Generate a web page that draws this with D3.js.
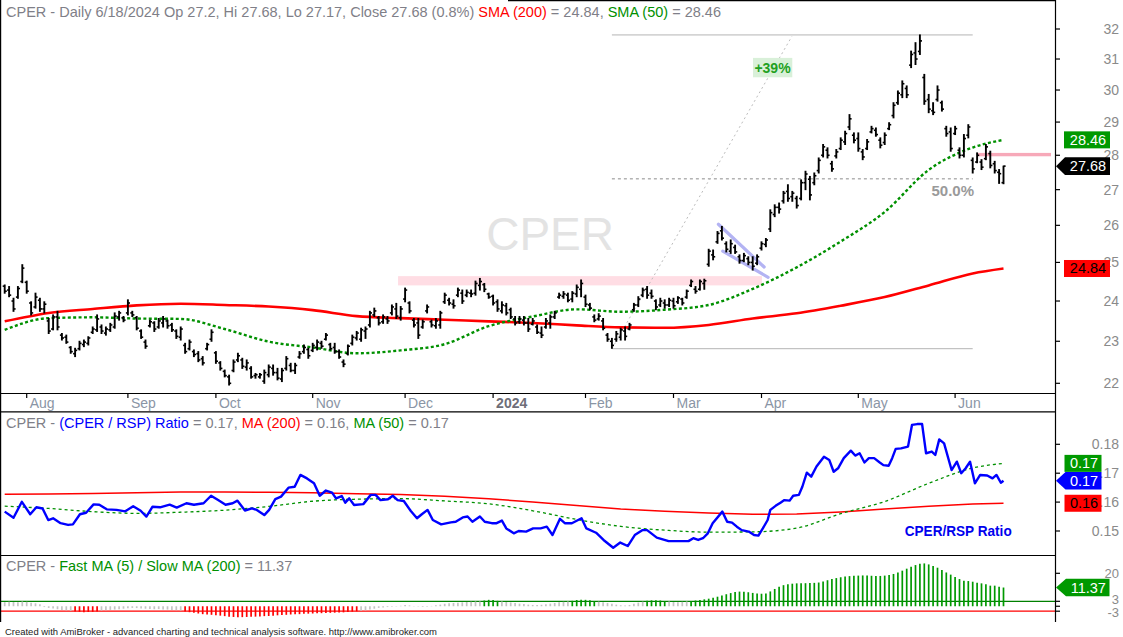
<!DOCTYPE html>
<html><head><meta charset="utf-8">
<script src="https://cdn.jsdelivr.net/npm/d3@7"></script>
<style>
body{margin:0;background:#fff}
svg{display:block}
text{font-family:"Liberation Sans",Arial,sans-serif}
</style></head>
<body><svg id="c" width="1123" height="637"></svg>
<script>
// ---------------- DATA ----------------
const firstDay = "2023-07-25", lastDay = "2024-06-18";
const holidays = ["2023-09-04","2023-11-23","2023-12-25","2024-01-01","2024-01-15","2024-02-19","2024-03-29","2024-05-27"];

const highs = [24.41,24.37,24.07,24.37,24.94,24.51,23.98,24.20,24.07,23.98,
23.56,23.65,23.74,23.19,23.15,22.87,22.83,23.00,23.03,23.11,
23.35,23.65,23.40,23.35,23.44,23.70,23.74,23.61,24.03,23.74,
23.61,23.28,23.03,23.52,23.48,23.56,23.61,23.52,23.44,23.28,
23.35,22.95,23.03,22.79,22.75,22.63,22.95,23.28,22.75,22.51,
22.31,22.19,22.55,22.71,22.59,22.55,22.39,22.23,22.23,22.31,
22.43,22.43,22.35,22.35,22.63,22.47,22.47,22.75,22.91,22.83,
22.95,23.03,23.00,23.19,22.95,22.95,22.79,22.55,22.91,23.15,
23.24,23.32,23.35,23.74,23.82,23.61,23.65,23.61,23.90,23.94,
23.86,24.33,23.98,23.56,23.56,23.52,23.90,23.52,23.56,23.74,
24.20,24.07,24.03,24.33,24.28,24.28,24.28,24.51,24.58,24.45,
24.20,24.15,24.03,23.98,23.94,23.82,23.61,23.61,23.61,23.56,
23.56,23.40,23.35,23.56,23.65,23.74,24.20,24.24,24.20,24.24,
24.41,24.54,24.15,23.94,23.65,23.68,23.56,23.19,23.07,23.24,
23.32,23.35,23.44,23.94,24.11,24.33,24.37,24.28,24.03,24.07,
24.03,24.07,24.07,24.11,24.07,24.28,24.54,24.37,24.54,24.56,
25.35,25.33,25.83,25.97,25.55,25.60,25.46,25.20,25.24,25.15,
25.15,25.20,25.55,25.64,26.43,26.57,26.62,26.95,27.14,26.95,
26.81,27.28,27.53,27.38,27.48,27.92,28.32,28.22,27.82,28.17,
28.52,28.72,29.23,28.67,28.67,28.17,28.47,28.87,28.82,28.52,
28.67,28.98,29.60,29.97,30.29,30.13,31.26,31.54,31.80,30.50,
29.86,29.60,30.13,29.65,28.87,28.82,28.87,28.22,28.62,28.92,
27.92,28.07,27.87,28.32,28.12,27.82,27.58,27.68];

const lows = [24.20,24.11,23.74,24.07,24.47,24.20,23.65,23.82,23.74,23.70,
23.19,23.28,23.28,23.03,22.95,22.71,22.63,22.79,22.87,22.91,
23.19,23.24,23.19,23.15,23.24,23.32,23.52,23.48,23.65,23.61,
23.28,23.07,22.83,23.35,23.24,23.32,23.35,23.32,23.24,23.07,
23.03,22.71,22.79,22.63,22.51,22.43,22.79,23.00,22.47,22.31,
22.15,21.96,22.27,22.51,22.35,22.31,22.12,22.12,22.12,22.00,
22.15,22.19,22.08,22.04,22.31,22.27,22.23,22.59,22.71,22.59,
22.75,22.79,22.83,23.03,22.79,22.71,22.59,22.39,22.67,22.91,
23.03,23.00,23.07,23.35,23.61,23.40,23.44,23.44,23.65,23.56,
23.52,23.98,23.70,23.35,23.07,23.32,23.70,23.35,23.32,23.32,
23.94,23.90,23.82,24.11,23.94,24.11,24.11,24.15,24.28,24.24,
24.07,23.90,23.74,23.70,23.65,23.56,23.40,23.44,23.40,23.24,
23.40,23.19,23.09,23.32,23.32,23.56,24.07,24.07,23.98,23.98,
24.11,24.11,23.86,23.78,23.48,23.52,23.28,23.00,22.83,23.00,
23.03,23.03,23.28,23.74,23.86,24.11,24.07,24.07,23.78,23.86,
23.82,23.86,23.82,23.94,23.90,24.07,24.37,24.20,24.28,24.30,
24.90,25.07,25.51,25.60,25.28,25.24,25.24,24.98,25.02,24.94,
24.80,24.94,25.33,25.42,25.83,26.24,26.34,26.62,26.67,26.67,
26.48,26.71,27.00,26.71,27.14,27.48,27.95,27.92,27.53,27.92,
28.17,28.32,28.77,28.37,28.12,27.87,28.17,28.67,28.57,28.22,
28.32,28.77,29.13,29.55,29.76,29.76,30.72,30.82,31.15,29.55,
29.29,29.23,29.65,29.34,28.57,28.12,28.62,27.92,27.95,28.52,
27.48,27.78,27.58,27.87,27.63,27.48,27.18,27.17];

const opens = [24.38,24.28,24.00,24.10,24.50,24.48,23.95,23.85,24.02,23.80,
23.50,23.30,23.60,23.15,23.10,22.85,22.70,22.82,22.92,22.95,
23.22,23.28,23.35,23.20,23.28,23.35,23.60,23.58,23.70,23.70,
23.58,23.25,22.98,23.38,23.45,23.35,23.45,23.50,23.40,23.25,
23.10,22.90,22.82,22.75,22.70,22.58,22.82,23.05,22.72,22.48,
22.28,22.15,22.30,22.55,22.55,22.38,22.35,22.18,22.15,22.05,
22.20,22.35,22.25,22.10,22.35,22.42,22.30,22.62,22.75,22.80,
22.78,22.85,22.95,23.05,22.92,22.85,22.75,22.50,22.70,22.95,
23.08,23.05,23.25,23.40,23.65,23.58,23.48,23.55,23.70,23.80,
23.58,24.05,23.95,23.52,23.45,23.35,23.75,23.48,23.38,23.40,
23.98,24.02,23.92,24.15,24.20,24.15,24.20,24.20,24.40,24.42,
24.18,24.12,23.98,23.75,23.88,23.78,23.55,23.48,23.52,23.45,
23.42,23.35,23.20,23.35,23.45,23.60,24.10,24.12,24.15,24.05,
24.18,24.30,24.10,23.90,23.60,23.55,23.50,23.15,23.00,23.05,
23.10,23.25,23.30,23.78,23.90,24.15,24.30,24.20,24.00,23.90,
23.95,23.90,24.00,23.98,24.05,24.10,24.40,24.30,24.30,24.45,
24.95,25.20,25.55,25.85,25.50,25.30,25.40,25.15,25.05,25.10,
25.00,24.98,25.38,25.48,25.90,26.30,26.50,26.68,26.95,26.80,
26.75,26.75,27.20,27.30,27.20,27.55,28.00,28.15,27.75,27.98,
28.20,28.40,28.85,28.60,28.50,28.10,28.20,28.70,28.75,28.45,
28.38,28.80,29.20,29.60,29.85,30.05,30.80,31.20,31.25,30.40,
29.70,29.35,29.70,29.60,28.80,28.70,28.65,28.15,28.00,28.60,
27.85,27.80,27.80,27.90,28.05,27.75,27.50,27.20];

const closes = [24.25,24.15,23.80,24.32,24.85,24.25,23.70,24.10,23.80,23.92,
23.25,23.60,23.35,23.08,22.98,22.75,22.78,22.95,22.98,23.08,
23.30,23.55,23.25,23.30,23.40,23.62,23.70,23.52,23.95,23.65,
23.32,23.10,22.88,23.48,23.30,23.50,23.55,23.38,23.28,23.12,
23.30,22.75,22.98,22.68,22.55,22.48,22.92,23.22,22.52,22.35,
22.18,22.00,22.50,22.65,22.40,22.48,22.15,22.20,22.20,22.25,
22.38,22.25,22.12,22.30,22.58,22.30,22.42,22.70,22.85,22.65,
22.90,22.98,22.88,23.15,22.82,22.75,22.62,22.45,22.88,23.10,
23.20,23.28,23.30,23.70,23.75,23.45,23.60,23.50,23.85,23.62,
23.80,24.28,23.75,23.40,23.15,23.48,23.85,23.40,23.50,23.70,
24.15,23.95,23.88,24.28,24.00,24.22,24.18,24.45,24.50,24.30,
24.10,23.95,23.80,23.90,23.70,23.60,23.45,23.55,23.45,23.30,
23.50,23.22,23.15,23.50,23.60,23.70,24.15,24.18,24.02,24.20,
24.35,24.45,23.92,23.82,23.52,23.62,23.32,23.05,22.90,23.18,
23.28,23.12,23.40,23.90,24.05,24.28,24.15,24.12,23.85,24.00,
23.90,24.02,23.88,24.08,23.95,24.25,24.50,24.25,24.50,24.52,
25.30,25.15,25.78,25.65,25.35,25.50,25.28,25.05,25.18,25.00,
24.90,25.15,25.50,25.60,26.35,26.50,26.45,26.90,26.75,26.90,
26.55,27.20,27.45,26.85,27.40,27.85,28.25,28.00,27.60,28.10,
28.45,28.65,29.10,28.45,28.20,27.95,28.40,28.80,28.62,28.30,
28.60,28.92,29.52,29.90,30.20,29.85,31.15,31.00,31.60,29.65,
29.40,29.30,30.00,29.40,28.65,28.20,28.80,28.00,28.50,28.85,
27.60,28.00,27.65,28.25,27.70,27.55,27.46,27.68];

// moving averages read every 10 bars (bar index -> value)
const maIdx    = [0,10,20,30,40,50,60,70,80,90,100,110,120,130,140,150,160,170,180,190,200,210,220,227];
const sma200   = [23.49,23.70,23.80,23.89,23.93,23.90,23.86,23.77,23.62,23.57,23.53,23.49,23.45,23.39,23.34,23.33,23.40,23.56,23.69,23.88,24.10,24.40,24.71,24.84];
const sma50    = [23.28,23.57,23.59,23.56,23.55,23.30,22.99,22.85,22.71,22.78,22.93,23.37,23.61,23.79,23.73,23.78,23.90,24.31,24.87,25.56,26.37,27.57,28.23,28.46];
const ratioMA200 = [.1627,.1628,.1630,.1632,.1635,.1635,.1634,.1632,.1629,.1626,.1620,.1612,.1600,.1588,.1576,.1568,.1562,.1558,.1559,.1566,.1576,.1586,.1593,.1596];
const ratioMA50  = [.1586,.1578,.1567,.1561,.1565,.1572,.1585,.1603,.1610,.1612,.1604,.1594,.1570,.1540,.1516,.1503,.1496,.1497,.1510,.1560,.1602,.1665,.1718,.1734];

// CPER / RSP ratio (bar index, value)
const ratioIdx = [0,2,3.9,5.8,7.2,8.6,9.9,11,12.7,14.4,15.5,17.1,18.5,20.2,21.5,23.2,25.4,27.4,29.2,30.9,32.2,33.6,35.3,37.5,39.1,41.3,43,45.2,46.9,48.5,50.2,51.8,52.9,54.6,56.2,57.3,59,60.1,61.5,62.8,64.5,65.9,67.2,68.7,70.3,71.6,73,74.4,75.3,76.6,77.4,78.3,79.4,81.5,83.2,84.3,85.4,87.1,88.2,89.3,90.7,92.3,93.7,94.8,96.1,97.3,99.2,101.4,102.5,104.1,105.2,106.3,108,109.1,110.7,111.8,113,114,115.7,116.8,118.5,120.1,121.8,123.2,124.5,126.2,127.3,128.9,131.1,132.2,134.4,136.1,138.3,139.9,141.6,143.2,144.9,146,148.2,150.9,155.4,156.5,157.6,158.7,159.8,160.9,163.1,164.2,165.3,166.4,167.5,169.1,170.3,171.3,172.3,173.4,174,175.2,176.4,177.2,178.4,179.2,180.5,181.3,182.3,183.3,184.5,186.2,187.4,188.4,189.4,190.7,192.3,193.3,194.3,195.4,196.4,197.6,198.8,199.7,200.9,201.7,202.5,203.7,205.3,206.2,207.4,208.5,209.4,210.7,211.5,212.4,213.5,215.2,216.4,217.4,218.4,219.4,220.5,221.7,223.3,224.5,225.4,226.4,227];
const ratioVal = [.1567,.1546,.1601,.1558,.1582,.1578,.1538,.1544,.1527,.1521,.1523,.1558,.1563,.1592,.1591,.1575,.1573,.1568,.1586,.1570,.1550,.1584,.1582,.1591,.1581,.1596,.1591,.1596,.1622,.1607,.1591,.1596,.1605,.1571,.1578,.1573,.1555,.1573,.1610,.1619,.1650,.1653,.1694,.1682,.1665,.1622,.1640,.1633,.1613,.1621,.1598,.1613,.1590,.1593,.1625,.1625,.1607,.1610,.1622,.1607,.1604,.1569,.1544,.1558,.1573,.1538,.1523,.1530,.1532,.1547,.1550,.1532,.1550,.1532,.1527,.1527,.1536,.1509,.1492,.1500,.1498,.1509,.1509,.1515,.1486,.1542,.1527,.1527,.1544,.1509,.1494,.1469,.1442,.1460,.1448,.1486,.1503,.1503,.1477,.1465,.1465,.1475,.1469,.1475,.1492,.1527,.1567,.1532,.1529,.1515,.1503,.1498,.1486,.1484,.1509,.1538,.1573,.1587,.1599,.1607,.1605,.1622,.1625,.1654,.1702,.1688,.1723,.1757,.1746,.1705,.1717,.1752,.1778,.1761,.1769,.1737,.1752,.1752,.1738,.1728,.1726,.1752,.1784,.1786,.1792,.1867,.1870,.1870,.1769,.1775,.1763,.1817,.1803,.1711,.1740,.1700,.1717,.1740,.1665,.1694,.1692,.1682,.1694,.1667,.1674];

// Fast MA(5) / Slow MA(200) oscillator, one value per bar
const osc = [2.5,2.8,2.6,2.4,2.9,2.7,2.2,1.8,1.2,
-0.5,-1.0,-1.3,-1.8,-2.2,-2.5,-2.8,
-3.2,-3.4,-3.6,-3.5,-3.4,-3.2,
-2.6,-2.4,-2.2,-2.0,-1.8,-1.5,-1.2,-1.0,-1.1,-1.3,-1.5,-1.6,-1.8,-1.7,-1.9,-2.0,-2.2,-2.4,-2.6,
-3.2,-3.6,-4.0,-4.4,-4.8,-5.0,-5.2,-5.4,-5.7,-6.0,-6.3,-6.5,-6.6,-6.6,-6.5,-6.4,-6.3,-6.2,-6.0,-5.9,-5.7,-5.5,-5.3,-5.2,-5.0,-4.9,-4.8,-4.6,-4.5,-4.4,-4.3,-4.2,-4.1,-4.0,-3.9,-3.8,-3.7,-3.5,-3.3,-3.1,
-2.8,-2.5,-2.0,-1.5,-1.0,-0.8,-0.5,-0.3,-0.2,0.3,0.8,0.5,0.2,-0.2,-0.4,-0.3,0.2,0.6,1.0,1.5,1.8,2.0,2.2,2.4,2.6,2.8,2.9,
2.9,3.5,3.9,3.8,3.3,
2.9,2.6,2.3,2.0,1.6,1.3,1.0,0.8,0.7,0.9,1.2,1.6,2.0,2.4,2.7,2.9,
3.3,3.8,4.0,3.9,3.6,3.2,
2.8,2.4,2.0,1.5,1.0,0.6,0.4,0.8,1.5,2.2,2.8,
3.3,3.6,3.7,3.5,3.2,
2.9,2.6,2.5,2.7,2.9,
3.2,3.5,3.8,4.2,4.6,5.2,5.8,6.5,7.3,8.0,8.6,8.9,8.8,8.5,8.1,7.8,
7.6,7.8,9.0,10.5,11.8,12.8,13.4,13.7,13.9,14.0,14.0,14.1,14.2,14.4,15.0,15.8,16.5,17.1,17.6,18.0,18.3,18.5,18.6,18.7,18.6,18.5,18.4,18.4,18.6,19.0,19.6,
20.5,21.6,22.8,24.0,25.0,25.8,26.0,25.4,24.5,23.4,22.0,20.5,19.2,17.8,
16.5,15.5,15.3,14.9,14.3,13.9,13.3,12.5,12.5,11.9,11.37];

const priceTicks = [22,23,24,25,26,27,28,29,30,31,32];
const ratioTicks = [0.15,0.16,0.17,0.18];
const oscTicks = [20,3,0,-3];
const oscLabels = [20,3,-3];
const oscLevels = [3,-3];

// annotations (bar index / price)
const swingIdx = [138,220];            // start / end of retracement lines
const swingLevels = [31.8,27.31,22.82]; // high, 50%, low
const trendLine = [[138,22.82],[178.9,31.75]];
const resistBand = [89.4,172.1,24.40,24.64];
const rightBand = [221.2,237.8,27.97,28.07];
const pennant = [[[162.2,26.03],[172.6,24.88]],[[163.2,25.30],[173.5,24.61]]];
const gainLabel = [174.5,30.72,"+39%"];
const retraceLabel = [220.3,26.82,"50.0%"];

// ---------------- CHART ----------------
const svg = d3.select("#c");
const AX = 1055;
const fmt = d3.timeFormat("%Y-%m-%d");
const dates = [];
for (let d = new Date(firstDay+"T12:00:00"); d <= new Date(lastDay+"T12:00:00"); d.setDate(d.getDate()+1)) {
  const wd = d.getDay();
  if (wd===0 || wd===6 || holidays.includes(fmt(d))) continue;
  dates.push(new Date(d));
}
const N = dates.length;
const x = d3.scaleLinear().domain([0, N-1]).range([4.7, 1003.5]);
const yP = d3.scaleLog().domain([22,32]).range([383.3,29]);
const yR = d3.scaleLinear().domain([0.15,0.18]).range([531,444.3]);
const yH = d3.scaleLinear().domain([-3,20]).range([611.2,573.3]);

const defs = svg.append("defs");
function clip(id,y0,h){defs.append("clipPath").attr("id",id).append("rect").attr("x",0).attr("y",y0).attr("width",AX).attr("height",h);}
clip("cp",1,392); clip("cr",412,143); clip("ch",556,66);

const gP = svg.append("g").attr("clip-path","url(#cp)");
const gR = svg.append("g").attr("clip-path","url(#cr)");
const gH = svg.append("g").attr("clip-path","url(#ch)");

// watermark
gP.append("text").attr("x",614).attr("y",250).attr("text-anchor","end")
  .attr("font-size",46).attr("fill","#e3e3e3").text("CPER");

// bands
gP.append("rect").attr("x",x(resistBand[0])).attr("width",x(resistBand[1])-x(resistBand[0]))
  .attr("y",yP(resistBand[3])).attr("height",yP(resistBand[2])-yP(resistBand[3])).attr("fill","#ffdde4");
gP.append("rect").attr("x",x(rightBand[0])).attr("width",x(rightBand[1])-x(rightBand[0]))
  .attr("y",yP(rightBand[3])).attr("height",yP(rightBand[2])-yP(rightBand[3])).attr("fill","#f7a9b9");

// retracement lines
swingLevels.forEach((v,k)=>{
  gP.append("line").attr("x1",x(swingIdx[0])).attr("x2",x(swingIdx[1]))
    .attr("y1",yP(v)).attr("y2",yP(v)).attr("stroke",k===1?"#8c8c8c":"#b4b4b4")
    .attr("stroke-width",1).attr("stroke-dasharray",k===1?"3,3":null);
});
gP.append("line").attr("x1",x(trendLine[0][0])).attr("y1",yP(trendLine[0][1]))
  .attr("x2",x(trendLine[1][0])).attr("y2",yP(trendLine[1][1]))
  .attr("stroke","#bdbdbd").attr("stroke-width",1).attr("stroke-dasharray","2,3");

// moving averages
const lineP = d3.line().x(d=>x(d[0])).y(d=>yP(d[1])).curve(d3.curveMonotoneX);
gP.append("path").attr("d",lineP(maIdx.map((i,k)=>[i,sma200[k]])))
  .attr("fill","none").attr("stroke","#ff0000").attr("stroke-width",2.6);
gP.append("path").attr("d",lineP(maIdx.map((i,k)=>[i,sma50[k]])))
  .attr("fill","none").attr("stroke","#009000").attr("stroke-width",2.4).attr("stroke-dasharray","3,2.4");

// pennant
pennant.forEach(seg=>{
  gP.append("line").attr("x1",x(seg[0][0])).attr("y1",yP(seg[0][1]))
    .attr("x2",x(seg[1][0])).attr("y2",yP(seg[1][1]))
    .attr("stroke","#b3b3f3").attr("stroke-width",3.2).attr("stroke-linecap","round");
});

// OHLC bars
const bars = gP.append("g").attr("stroke","#000");
d3.range(N).forEach(i=>{
  const cx = x(i);
  bars.append("line").attr("x1",cx).attr("x2",cx).attr("y1",yP(highs[i])-0.5).attr("y2",yP(lows[i])+0.5).attr("stroke-width",1.9);
  bars.append("line").attr("x1",cx-2).attr("x2",cx).attr("y1",yP(opens[i])).attr("y2",yP(opens[i])).attr("stroke-width",1.6);
  bars.append("line").attr("x1",cx).attr("x2",cx+2.1).attr("y1",yP(closes[i])).attr("y2",yP(closes[i])).attr("stroke-width",1.6);
});

// labels on price chart
const gx = x(gainLabel[0]), gy = yP(gainLabel[1]);
gP.append("rect").attr("x",gx-19.5).attr("y",gy-9.7).attr("width",39.3).attr("height",19.4).attr("fill","#d9f0d9");
gP.append("text").attr("x",gx).attr("y",gy+5.2).attr("text-anchor","middle").attr("font-size",14)
  .attr("font-weight","bold").attr("fill","#22a022").text(gainLabel[2]);
gP.append("text").attr("x",x(retraceLabel[0])).attr("y",yP(retraceLabel[1])).attr("text-anchor","end")
  .attr("font-size",15).attr("font-weight","bold").attr("fill","#9a9a9a").text(retraceLabel[2]);

// ---------------- RATIO PANEL ----------------
const lineR = d3.line().x(d=>x(d[0])).y(d=>yR(d[1]));
gR.append("path").attr("d",lineR(maIdx.map((i,k)=>[i,ratioMA200[k]])))
  .attr("fill","none").attr("stroke","#ff0000").attr("stroke-width",1.5);
gR.append("path").attr("d",lineR.curve(d3.curveMonotoneX)(maIdx.map((i,k)=>[i,ratioMA50[k]])))
  .attr("fill","none").attr("stroke","#009000").attr("stroke-width",1.3).attr("stroke-dasharray","3,3");
gR.append("path").attr("d",d3.line().x(d=>x(d[0])).y(d=>yR(d[1]))(ratioIdx.map((i,k)=>[i,ratioVal[k]])))
  .attr("fill","none").attr("stroke","#0000ff").attr("stroke-width",2.4).attr("stroke-linejoin","round");
gR.append("text").attr("x",904.7).attr("y",535.5).attr("font-size",14).attr("font-weight","bold")
  .attr("fill","#0000ee").attr("textLength",107).attr("lengthAdjust","spacingAndGlyphs").text("CPER/RSP Ratio");

// ---------------- OSC PANEL ----------------
oscLevels.forEach(v=>{
  gH.append("line").attr("x1",0).attr("x2",AX).attr("y1",yH(v)).attr("y2",yH(v))
    .attr("stroke",v>0?"#008000":"#ff0000").attr("stroke-width",1.3);
});
osc.forEach((v,i)=>{
  gH.append("line").attr("x1",x(i)).attr("x2",x(i)).attr("y1",yH(0)).attr("y2",yH(v))
    .attr("stroke",v>3?"#009900":(v<-3?"#ff0000":"#c4c4c4")).attr("stroke-width",1.7);
});

// ---------------- FRAMES & AXES ----------------
const frame = svg.append("g").attr("stroke","#000").attr("stroke-width",1.2);
frame.append("line").attr("x1",AX+0.5).attr("x2",AX+0.5).attr("y1",0).attr("y2",622);
frame.append("line").attr("x1",0.6).attr("x2",0.6).attr("y1",0).attr("y2",622);
[393.5,411.8,555.5].forEach(yy=>frame.append("line").attr("x1",0).attr("x2",AX+0.5).attr("y1",yy).attr("y2",yy));
frame.append("line").attr("x1",508).attr("x2",AX+0.5).attr("y1",0.6).attr("y2",0.6);

// month ticks
const monthIdx = d3.range(1,N).filter(i=>dates[i].getMonth()!==dates[i-1].getMonth());
monthIdx.forEach(i=>{
  svg.append("line").attr("x1",x(i)).attr("x2",x(i)).attr("y1",393).attr("y2",398).attr("stroke","#000").attr("stroke-width",1.2);
  const jan = dates[i].getMonth()===0;
  svg.append("text").attr("x",x(i)+3).attr("y",407.5).attr("font-size",14)
    .attr("font-weight",jan?"bold":"normal").attr("fill",jan?"#6e6e78":"#8a95a5")
    .text(jan?d3.timeFormat("%Y")(dates[i]):d3.timeFormat("%b")(dates[i]));
});

function yTicks(ticks, sc, fmtf, labels, fs, dy){
  ticks.forEach(t=>{
    svg.append("line").attr("x1",AX).attr("x2",AX+5).attr("y1",sc(t)).attr("y2",sc(t)).attr("stroke","#000").attr("stroke-width",1.2);
  });
  (labels||ticks).forEach(t=>{
    svg.append("text").attr("x",1119).attr("y",sc(t)+(dy?dy(t):5)).attr("text-anchor","end").attr("font-size",fs||14)
      .attr("fill","#8a8a8a").text(fmtf(t));
  });
}
yTicks(priceTicks, yP, d=>d);
yTicks(ratioTicks, yR, d3.format(".2f"));
yTicks(oscTicks, yH, d=>d, oscLabels, 13, t=>t===3?3:(t===-3?6:5));

// value tags
function tag(yc, label, fill, tcol, arrow, x0, x1){
  x0 = x0||1064; x1 = x1||1110;
  if (arrow) {
    svg.append("path").attr("d",`M${AX+1},${yc} L${x0+1},${yc-8.8} L${x1},${yc-8.8} L${x1},${yc+8.8} L${x0+1},${yc+8.8} Z`).attr("fill",fill);
  } else {
    svg.append("rect").attr("x",x0).attr("y",yc-8.5).attr("width",x1-x0).attr("height",17).attr("fill",fill);
  }
  svg.append("text").attr("x",(x0+x1)/2+1).attr("y",yc+5).attr("text-anchor","middle").attr("font-size",14.5)
    .attr("fill",tcol).text(label);
}
tag(yP(sma50[sma50.length-1]), "28.46", "#009900", "#fff", false);
tag(yP(closes[N-1]), "27.68", "#000", "#fff", true);
tag(yP(sma200[sma200.length-1]), "24.84", "#ff0000", "#000", false);
tag(yR(ratioMA50[ratioMA50.length-1]), "0.17", "#009900", "#fff", false, 1064.5, 1101.5);
tag(yR(ratioVal[ratioVal.length-1]), "0.17", "#0000ff", "#fff", true, 1064.5, 1101.5);
tag(yR(ratioMA200[ratioMA200.length-1]), "0.16", "#ff0000", "#000", false, 1064.5, 1101.5);
tag(yH(osc[N-1]), "11.37", "#009900", "#fff", true, 1065, 1109.5);

// headers
function header(yb, parts){
  const t = svg.append("text").attr("x",6).attr("y",yb).attr("font-size",14.5);
  parts.forEach(p=>t.append("tspan").attr("fill",p[1]).text(p[0]));
}
const G="#7f7f88";
header(16.5,[["CPER - Daily 6/18/2024 Op 27.2, Hi 27.68, Lo 27.17, Close 27.68 (0.8%) ",G],["SMA (200)","#ff0000"],[" = 24.84, ",G],["SMA (50)","#009000"],[" = 28.46",G]]);
header(427.5,[["CPER - ",G],["(CPER / RSP) Ratio","#0000ff"],[" = 0.17, ",G],["MA (200)","#ff0000"],[" = 0.16, ",G],["MA (50)","#009000"],[" = 0.17",G]]);
header(570.5,[["CPER - ",G],["Fast MA (5) / Slow MA (200)","#009000"],[" = 11.37",G]]);

svg.append("text").attr("x",5).attr("y",634.5).attr("font-size",9.5).attr("fill","#222")
  .attr("textLength",432).attr("lengthAdjust","spacingAndGlyphs")
  .text("Created with AmiBroker - advanced charting and technical analysis software. http://www.amibroker.com");
</script>
</body></html>
